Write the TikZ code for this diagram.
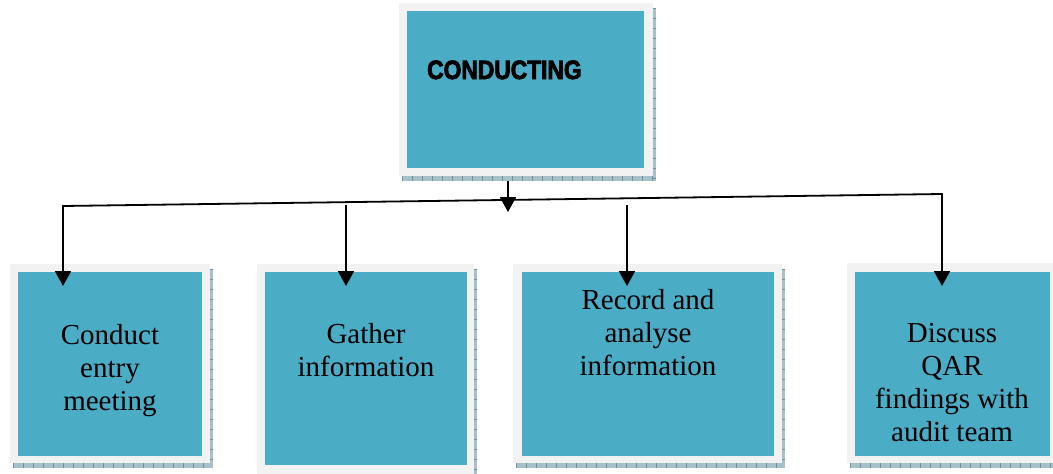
\documentclass[tikz,border=0pt]{standalone}
\usepackage{fontspec}
\setmainfont{Liberation Serif}
\newfontfamily\headfont[FakeStretch=0.86,FakeBold=3]{Liberation Sans Bold}
\usetikzlibrary{arrows.meta,calc}
\definecolor{boxblue}{HTML}{4BACC6}
\definecolor{framegray}{HTML}{F2F2F2}
\definecolor{shadowfill}{HTML}{A7C1CA}
\definecolor{shadowtick}{HTML}{6F929E}

% offset hatched shadow behind a framed box
\newcommand\dropshadow[1]{%
  \fill[shadowfill] ($(#1.north west)+(3,5)$) rectangle ($(#1.south east)+(3,5)$);
  \draw[shadowtick, line width=5pt, dash pattern=on 1pt off 9pt]
    ($(#1.south west)+(3,2.5)$) -- ($(#1.south east)+(3,2.5)$);
  \draw[shadowtick, line width=3pt, dash pattern=on 1pt off 9pt]
    ($(#1.north east)+(1.5,5)$) -- ($(#1.south east)+(1.5,5)$);
}

\begin{document}
\begin{tikzpicture}[x=1pt,y=-1pt,
  frame/.style={fill=framegray, inner sep=0, outer sep=0, anchor=north west},
  panel/.style={fill=boxblue, inner sep=0, outer sep=0, anchor=north west},
  label/.style={font=\fontsize{29}{33}\selectfont, align=center, anchor=north,
    inner sep=0, execute at begin node=\strut},
  link/.style={line width=1.8pt, -{Triangle[length=15pt,width=16pt]}},
  branch/.style={line width=1.8pt, {Triangle[length=15pt,width=16pt]}-{Triangle[length=15pt,width=16pt]}}]
\useasboundingbox (0,0) rectangle (1053,474);
\clip (0,0) rectangle (1053,474);
\fill[white] (0,0) rectangle (1053,474);

% frames
\node[frame, minimum width=254pt, minimum height=173pt] (f0) at (399,3) {};
\node[frame, minimum width=200pt, minimum height=199pt] (f1) at (10,264) {};
\node[frame, minimum width=217pt, minimum height=215pt] (f2) at (257,264) {};
\node[frame, minimum width=269pt, minimum height=199pt] (f3) at (513,264) {};
\node[frame, minimum width=211pt, minimum height=200pt] (f4) at (847,263) {};

% shadows drawn, then frames repainted on top
\dropshadow{f0}
\dropshadow{f1}
\dropshadow{f2}
\dropshadow{f3}
\dropshadow{f4}
\fill[framegray] (f0.north west) rectangle (f0.south east);
\fill[framegray] (f1.north west) rectangle (f1.south east);
\fill[framegray] (f2.north west) rectangle (f2.south east);
\fill[framegray] (f3.north west) rectangle (f3.south east);
\fill[framegray] (f4.north west) rectangle (f4.south east);

% coloured panels
\node[panel, minimum width=237pt, minimum height=157pt] (p0) at (407,11) {};
\node[panel, minimum width=184pt, minimum height=184pt] (p1) at (18,272) {};
\node[panel, minimum width=202pt, minimum height=193pt] (p2) at (265,272) {};
\node[panel, minimum width=252pt, minimum height=184pt] (p3) at (522,272) {};
\node[panel, minimum width=195pt, minimum height=184pt] (p4) at (855,272) {};

% texts
\node[anchor=base west, inner sep=0,
  font=\headfont\fontsize{26.5}{30}\selectfont] (title) at (427,79) {CONDUCTING};
\node[label] (l1) at (110,324) {Conduct\\entry\\meeting};
\node[label] (l2) at (366,323) {Gather\\information};
\node[label] (l3) at (648,289) {Record and\\analyse\\information};
\node[label] (l4) at (952,323) {Discuss\\QAR\\findings with\\audit team};

% connectors
\coordinate (src) at (508,181);
\coordinate (srcTip) at (508,212);
\coordinate (hubL) at (63,206);
\coordinate (hubR) at (942,194);
\coordinate (g2) at (346,205);
\coordinate (g3) at (627,205);
\coordinate (t1) at (63,286);
\coordinate (t2) at (346,286);
\coordinate (t3) at (627,286);
\coordinate (t4) at (942,286);

\draw[branch] (t1) -- (hubL) -- (hubR) -- (t4);
\draw[link] (src) -- (srcTip);
\draw[link] (g2) -- (t2);
\draw[link] (g3) -- (t3);
\end{tikzpicture}
\end{document}
